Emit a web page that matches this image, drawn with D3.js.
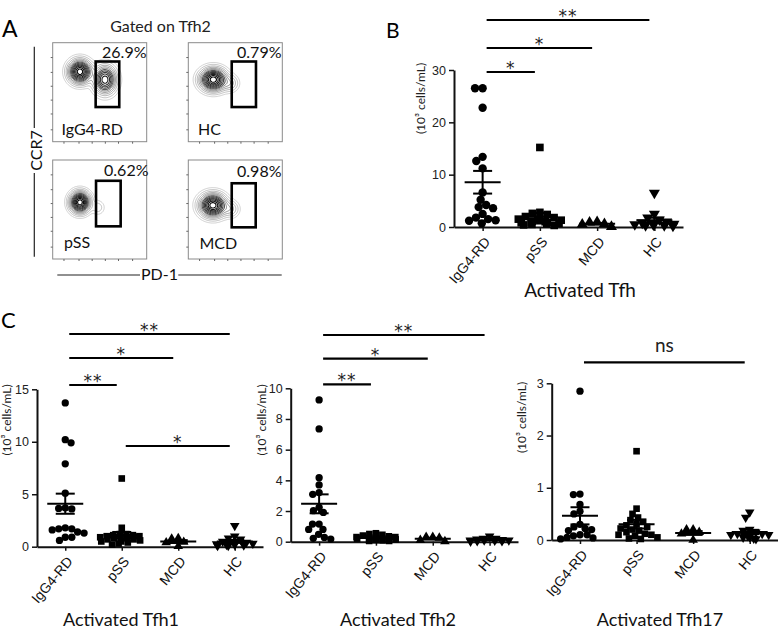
<!DOCTYPE html>
<html><head><meta charset="utf-8">
<script src="https://cdn.jsdelivr.net/npm/d3@7"></script>
<style>
body{margin:0;background:#fff}
svg{display:block;font-family:Lato,'Open Sans',sans-serif}
</style>
</head><body>
<svg id="c" width="778" height="629"></svg>
<script>
// ---------------- DATA ----------------
const groups = ["IgG4-RD", "pSS", "MCD", "HC"];

// Panel B: Activated Tfh (10^3 cells/mL)
const tfhIgG4 = [26.5, 26.5, 22.8, 13.4, 12.6, 11.2, 6.6, 5.2, 4.2, 3.8, 3.6, 2.5, 1.8, 1.5, 1.3, 1.2, 0.7];
const tfhPSS  = [15.2, 2.8, 2.6, 2.4, 2.0, 1.8, 1.5, 1.3, 1.2, 1.0, 0.9, 0.8, 0.7, 0.6, 0.5, 0.4, 0.3, 1.1, 1.4, 0.8];
const tfhMCD  = [1.0, 0.6, 0.5, 0.05, 0.9];
const tfhHC   = [6.5, 2.5, 1.8, 1.4, 1.0, 0.8, 0.6, 0.5, 0.4, 0.3, 0.2, 0.3, 0.6];
const tfhTicks = [0, 10, 20, 30];
const tfhSig = [["IgG4-RD", "pSS", "*"], ["IgG4-RD", "MCD", "*"], ["IgG4-RD", "HC", "**"]];

// Panel C: Activated Tfh1
const tfh1IgG4 = [13.7, 10.2, 9.9, 7.9, 5.1, 3.7, 3.65, 3.6, 1.8, 1.7, 1.6, 1.7, 1.3, 1.4, 0.9, 0.9, 0.6];
const tfh1PSS  = [6.5, 1.8, 1.2, 1.1, 1.0, 0.9, 0.8, 1.2, 0.7, 0.5, 0.4, 0.3, 0.6, 0.9, 1.0, 0.8, 0.2, 0.5, 0.7, 1.1];
const tfh1MCD  = [0.75, 0.45, 0.4, 0.05, 0.8];
const tfh1HC   = [2.0, 1.0, 0.8, 0.7, 0.5, 0.4, 0.3, 0.2, 0.15, 0.1, 0.3, 0.25, 0.2, 0.1];
const tfh1Ticks = [0, 5, 10, 15];
const tfh1Sig = [["IgG4-RD", "pSS", "**"], ["IgG4-RD", "MCD", "*"], ["IgG4-RD", "HC", "**"], ["pSS", "HC", "*"]];

// Panel C: Activated Tfh2
const tfh2IgG4 = [9.24, 7.35, 4.17, 3.7, 3.2, 3.09, 2.24, 2.02, 1.91, 1.15, 1.15, 0.8, 0.8, 0.48, 0.28, 0.22, 0.17];
const tfh2PSS  = [0.55, 0.5, 0.45, 0.35, 0.3, 0.25, 0.2, 0.15, 0.1, 0.05, 0.2, 0.3, 0.15, 0.1, 0.05, 0.25, 0.4, 0.12, 0.08];
const tfh2MCD  = [0.3, 0.25, 0.1, 0.02, 0.3];
const tfh2HC   = [0.35, 0.2, 0.15, 0.1, 0.1, 0.05, 0.05, 0.02, 0.12, 0.08, 0.2, 0.1];
const tfh2Ticks = [0, 2, 4, 6, 8, 10];
const tfh2Sig = [["IgG4-RD", "pSS", "**"], ["IgG4-RD", "MCD", "*"], ["IgG4-RD", "HC", "**"]];

// Panel C: Activated Tfh17
const tfh17IgG4 = [2.85, 0.88, 0.87, 0.68, 0.55, 0.5, 0.3, 0.25, 0.2, 0.22, 0.18, 0.1, 0.05, 0.02, 0.04, 0.1, 0.08];
const tfh17PSS  = [1.7, 0.6, 0.5, 0.43, 0.38, 0.35, 0.3, 0.25, 0.22, 0.2, 0.15, 0.12, 0.1, 0.08, 0.05, 0.03, 0.02, 0.18, 0.28, 0.1];
const tfh17MCD  = [0.2, 0.2, 0.15, 0.12, 0.0];
const tfh17HC   = [0.53, 0.43, 0.2, 0.18, 0.15, 0.12, 0.1, 0.08, 0.05, 0.03, 0.02, 0.1, 0.06, 0.12];
const tfh17Ticks = [0, 1, 2, 3];
const tfh17Sig = [["IgG4-RD", "HC", "ns"]];

// Panel A: flow plots (PD-1 vs CCR7, arbitrary channel units 0-1000)
const flowNames = ["IgG4-RD", "HC", "pSS", "MCD"];
const flowPct = ["26.9%", "0.79%", "0.62%", "0.98%"];
// populations: [PD-1 centre, CCR7 centre, sd PD-1, sd CCR7, weight]
const flowPops = [
  [[290, 707, 62, 60, 1], [556, 627, 62, 72, 0.75]],
  [[266, 627, 72, 58, 1], [440, 590, 50, 45, 0.12]],
  [[290, 573, 55, 55, 1], [480, 520, 40, 40, 0.05]],
  [[262, 542, 72, 60, 1], [445, 505, 50, 45, 0.12]]
];
// gates: [PD-1 low, PD-1 high, CCR7 low, CCR7 high]
const flowGates = [[457, 708, 350, 810], [462, 720, 350, 810], [461, 723, 330, 790], [462, 717, 320, 765]];
const flowTicks = [120, 280, 420, 560, 700, 850];

// ---------------- LAYOUT ----------------
const svg = d3.select("#c");
const INK = "#111";
const STAR_FONT = "'DejaVu Sans', sans-serif";

// panel letters
svg.append("text").attr("x", 2).attr("y", 37).attr("font-size", 23).text("A");
svg.append("text").attr("x", 386).attr("y", 38).attr("font-size", 21).text("B");
svg.append("text").attr("x", 1).attr("y", 328).attr("font-size", 22).text("C");

// ---- Panel A ----
const boxPos = [[52.7, 42.7], [188.3, 42.7], [52.7, 160], [188.3, 160]];
const BW = 94, BH = 99;
const pctPos = [[146.5, 58.3], [281.5, 58], [148.5, 176], [281.5, 176.7]];
const namePos = [[61.5, 135], [198, 135], [64, 248], [199.5, 249]];

svg.append("text").attr("x", 160.5).attr("y", 31.5).attr("text-anchor", "middle")
  .attr("font-size", 16).attr("fill", "#222").text("Gated on Tfh2");

const levels = [0.012, 0.03, 0.06, 0.1, 0.15, 0.21, 0.28, 0.36, 0.45, 0.55, 0.66, 0.78, 0.9];
const lvlColor = d3.scaleLinear().domain([0, 4, levels.length - 1]).range(["#c4c4c4", "#777", "#000"]);

flowNames.forEach((nm, k) => {
  const [bx, by] = boxPos[k];
  const fx = d3.scaleLinear().domain([0, 1000]).range([bx, bx + BW]);
  const fy = d3.scaleLinear().domain([0, 1000]).range([by + BH, by]);
  const g = svg.append("g");
  // density grid from population parameters
  const nx = BW, ny = BH, vals = new Array(nx * ny);
  let mx = 0;
  for (let j = 0; j < ny; j++) for (let i = 0; i < nx; i++) {
    const dx = fx.invert(bx + i + 0.5), dy = fy.invert(by + j + 0.5);
    let v = 0;
    flowPops[k].forEach(([cx, cy, sx, sy, w]) => {
      v += w * Math.exp(-0.5 * (((dx - cx) / sx) ** 2 + ((dy - cy) / sy) ** 2));
    });
    vals[j * nx + i] = v; if (v > mx) mx = v;
  }
  const cont = d3.contours().size([nx, ny]).thresholds(levels.map(l => l * mx))(vals);
  const path = d3.geoPath(d3.geoIdentity().translate([bx, by]));
  g.selectAll("path.ct").data(cont).join("path").attr("class", "ct")
    .attr("d", path).attr("fill", "none")
    .attr("stroke", (d, i) => lvlColor(i)).attr("stroke-width", (d, i) => i > 5 ? 1.1 : 0.8);
  // frame
  g.append("rect").attr("x", bx).attr("y", by).attr("width", BW).attr("height", BH)
    .attr("fill", "none").attr("stroke", "#8a8a8a").attr("stroke-width", 1);
  // small ticks
  flowTicks.forEach(t => {
    g.append("line").attr("x1", bx - 2).attr("x2", bx).attr("y1", fy(t)).attr("y2", fy(t)).attr("stroke", "#666");
    g.append("line").attr("x1", fx(t)).attr("x2", fx(t)).attr("y1", by + BH).attr("y2", by + BH + 2).attr("stroke", "#666");
  });
  // gate
  const [a, b, c, d] = flowGates[k];
  g.append("rect").attr("x", fx(a)).attr("y", fy(d)).attr("width", fx(b) - fx(a)).attr("height", fy(c) - fy(d))
    .attr("fill", "none").attr("stroke", "#000").attr("stroke-width", 2.6);
  g.append("text").attr("x", pctPos[k][0]).attr("y", pctPos[k][1]).attr("text-anchor", "end")
    .attr("font-size", 16).attr("fill", "#111").text(flowPct[k]);
  g.append("text").attr("x", namePos[k][0]).attr("y", namePos[k][1])
    .attr("font-size", 16).attr("fill", "#111").text(nm);
});
// axis labels of A
svg.append("line").attr("x1", 34.3).attr("x2", 34.3).attr("y1", 46.7).attr("y2", 128).attr("stroke", "#222").attr("stroke-width", 1.2);
svg.append("line").attr("x1", 34.3).attr("x2", 34.3).attr("y1", 173).attr("y2", 256.7).attr("stroke", "#222").attr("stroke-width", 1.2);
svg.append("text").attr("transform", "translate(41.5,150.5) rotate(-90)").attr("text-anchor", "middle")
  .attr("font-size", 16).attr("fill", "#111").text("CCR7");
svg.append("line").attr("x1", 57.3).attr("x2", 140).attr("y1", 275).attr("y2", 275).attr("stroke", "#222").attr("stroke-width", 1.2);
svg.append("line").attr("x1", 178.3).attr("x2", 281.7).attr("y1", 275).attr("y2", 275).attr("stroke", "#222").attr("stroke-width", 1.2);
svg.append("text").attr("x", 159.5).attr("y", 280).attr("text-anchor", "middle")
  .attr("font-size", 16).attr("fill", "#111").text("PD-1");

// ---- Scatter panels ----
const panels = [
  { data: [tfhIgG4, tfhPSS, tfhMCD, tfhHC], ticks: tfhTicks, max: 30, sig: tfhSig,
    x0: 454, x1: 683, yb: 227, yt: 70, title: "Activated Tfh", tx: 580, ty: 297, ts: 19,
    lx: 421, ly: 98.5, sigY: [72, 48, 20], ms: 1.15 },
  { data: [tfh1IgG4, tfh1PSS, tfh1MCD, tfh1HC], ticks: tfh1Ticks, max: 15, sig: tfh1Sig,
    x0: 37, x1: 263, yb: 546.7, yt: 389.3, title: "Activated Tfh1", tx: 121, ty: 626, ts: 18,
    lx: 7, ly: 420, sigY: [385, 358, 334, 446], ms: 1 },
  { data: [tfh2IgG4, tfh2PSS, tfh2MCD, tfh2HC], ticks: tfh2Ticks, max: 10, sig: tfh2Sig,
    x0: 290.7, x1: 518, yb: 541.7, yt: 388.3, title: "Activated Tfh2", tx: 398, ty: 626, ts: 18,
    lx: 262, ly: 420, sigY: [384.3, 358.7, 335], ms: 1 },
  { data: [tfh17IgG4, tfh17PSS, tfh17MCD, tfh17HC], ticks: tfh17Ticks, max: 3, sig: tfh17Sig,
    x0: 551.7, x1: 778, yb: 540, yt: 383.3, title: "Activated Tfh17", tx: 660, ty: 626, ts: 18,
    lx: 522, ly: 417.5, sigY: [362.3], ms: 1 }
];

const symTypes = [d3.symbolCircle, d3.symbolSquare, d3.symbolTriangle, d3.symbolTriangle];
const symArea = [42, 44, 40, 40];
const symRot = [0, 0, 0, 180];

function swarm(vals, cx, y, dia, maxHalf) {
  const order = vals.map((v, i) => ({ v, i })).sort((a, b) => b.v - a.v);
  const placed = [], out = new Array(vals.length);
  order.forEach(o => {
    const py = y(o.v);
    const iv = [];
    placed.forEach(p => {
      const dy = Math.abs(p.y - py);
      if (dy < dia) { const dx = Math.sqrt(dia * dia - dy * dy); iv.push([p.x - dx, p.x + dx]); }
    });
    const cands = [cx];
    iv.forEach(([a, b]) => cands.push(a, b));
    cands.sort((a, b) => Math.abs(a - cx) - Math.abs(b - cx));
    let px = null, best = null, bestN = 1e9;
    for (const c of cands) {
      if (Math.abs(c - cx) > maxHalf + 1e-6) continue;
      const n = iv.filter(([a, b]) => c > a + 1e-6 && c < b - 1e-6).length;
      if (n === 0) { px = c; break; }
      if (n < bestN) { bestN = n; best = c; }
    }
    if (px === null) px = best !== null ? best : cx;
    placed.push({ x: px, y: py });
    out[o.i] = [px, py];
  });
  return out;
}

panels.forEach(p => {
  const y = d3.scaleLinear().domain([0, p.max]).range([p.yb, p.yt]);
  const x = d3.scalePoint().domain(groups).range([p.x0, p.x1]).padding(0.5);
  const g = svg.append("g");

  // y axis
  const ya = g.append("g").attr("transform", `translate(${p.x0},0)`)
    .call(d3.axisLeft(y).tickValues(p.ticks).tickFormat(d3.format("~g")).tickSize(5).tickSizeOuter(0).tickPadding(3));
  ya.select(".domain").attr("stroke", INK).attr("stroke-width", 2);
  ya.selectAll(".tick line").attr("stroke", INK).attr("stroke-width", 1.5);
  ya.selectAll("text").attr("font-size", 12.5).attr("font-family", null).attr("fill", "#222");

  // x axis
  const xa = g.append("g").attr("transform", `translate(0,${p.yb})`)
    .call(d3.axisBottom(x).tickSize(4).tickSizeOuter(0));
  xa.select(".domain").attr("stroke", INK).attr("stroke-width", 2);
  xa.selectAll(".tick line").attr("stroke", INK).attr("stroke-width", 1.5);
  xa.selectAll("text").attr("font-size", 14).attr("font-family", null).attr("fill", "#111")
    .attr("text-anchor", "end").attr("y", null).attr("dy", "0.35em")
    .attr("transform", "translate(4,12) rotate(-50)");

  // y label
  g.append("text").attr("transform", `translate(${p.lx + 4},${p.ly}) rotate(-90)`)
    .attr("text-anchor", "middle").attr("font-size", 12).attr("fill", "#222").text("(10³ cells/mL)");

  // title
  g.append("text").attr("x", p.tx).attr("y", p.ty).attr("text-anchor", "middle")
    .attr("font-size", p.ts).attr("fill", "#111").text(p.title);

  // points
  p.data.forEach((vals, gi) => {
    const cx = x(groups[gi]);
    const pos = swarm(vals, cx, y, 6.6 * p.ms, 22);
    const sym = d3.symbol().type(symTypes[gi]).size(symArea[gi] * p.ms * p.ms);
    g.selectAll(null).data(pos).join("path")
      .attr("d", sym)
      .attr("transform", d => `translate(${d[0]},${d[1]}) rotate(${symRot[gi]})`)
      .attr("fill", "#000");
    // mean ± SEM
    const m = d3.mean(vals), s = d3.deviation(vals) / Math.sqrt(vals.length);
    const lg = g.append("g").attr("stroke", "#000").attr("stroke-width", 2);
    lg.append("line").attr("x1", cx - 18).attr("x2", cx + 18).attr("y1", y(m)).attr("y2", y(m));
    lg.append("line").attr("x1", cx).attr("x2", cx).attr("y1", y(m - s)).attr("y2", y(m + s));
    [m - s, m + s].forEach(v => lg.append("line").attr("x1", cx - 9.5).attr("x2", cx + 9.5).attr("y1", y(v)).attr("y2", y(v)));
  });

  // significance bars
  p.sig.forEach(([g1, g2, lab], i) => {
    const xa1 = x(g1) + 4, xa2 = x(g2) - 5, yy = p.sigY[i];
    g.append("line").attr("x1", xa1).attr("x2", xa2).attr("y1", yy).attr("y2", yy)
      .attr("stroke", "#000").attr("stroke-width", 2.2);
    const isNs = lab === "ns";
    g.append("text").attr("x", (xa1 + xa2) / 2).attr("y", isNs ? yy - 10.5 : yy + 2)
      .attr("text-anchor", "middle").attr("font-size", isNs ? 19 : 17)
      .attr("font-family", isNs ? null : STAR_FONT)
      .attr("letter-spacing", isNs ? 0 : 1).attr("fill", "#222").text(lab);
  });
});
</script>
</body></html>
